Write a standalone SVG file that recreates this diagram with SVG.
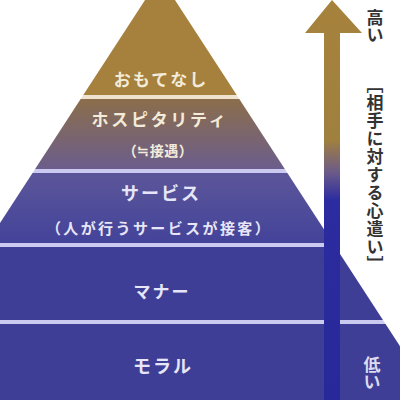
<svg xmlns="http://www.w3.org/2000/svg" width="400" height="400" viewBox="0 0 400 400">
<defs>
<style>
.lbl{font-family:"Noto Sans CJK JP","Noto Sans",sans-serif;font-weight:bold;text-anchor:middle;}
.top{fill:#f4ecda;}
.low{fill:#e6e6f8;}
.side{font-family:"Noto Sans CJK JP","Noto Sans",sans-serif;font-weight:bold;writing-mode:vertical-rl;font-size:17px;fill:#333;}
.sep1{fill:#efe3cf;}
.sep{fill:#cbcbf2;}
</style>
<clipPath id="tri"><polygon points="160,-23 435,400 -115,400"/></clipPath>
<linearGradient id="g2" x1="0" y1="99" x2="0" y2="169" gradientUnits="userSpaceOnUse">
<stop offset="0" stop-color="#8b6e4b"/><stop offset="1" stop-color="#6b5d8c"/>
</linearGradient>
<linearGradient id="g3" x1="0" y1="173" x2="0" y2="243" gradientUnits="userSpaceOnUse">
<stop offset="0" stop-color="#5c5699"/><stop offset="1" stop-color="#43439a"/>
</linearGradient>
<linearGradient id="ga" x1="0" y1="0" x2="0" y2="400" gradientUnits="userSpaceOnUse">
<stop offset="0" stop-color="#a6823c"/><stop offset="0.35" stop-color="#a0803f"/>
<stop offset="0.43" stop-color="#6c5b88"/><stop offset="0.5" stop-color="#2c2ca0"/>
<stop offset="1" stop-color="#28289a"/>
</linearGradient>
</defs>
<rect width="400" height="400" fill="#ffffff"/>
<g clip-path="url(#tri)">
<g id="omotenashi">
<rect x="-120" y="-30" width="560" height="125" fill="#a5813d"/>
<text class="lbl top" x="161" y="86" font-size="17" letter-spacing="2">おもてなし</text>
</g>
<rect class="sep1" x="-120" y="95" width="560" height="4"/>
<g id="hospitality">
<rect x="-120" y="99" width="560" height="70" fill="url(#g2)"/>
<text class="lbl top" x="160" y="126" font-size="17" letter-spacing="2.7">ホスピタリティ</text>
<text class="lbl top" x="158" y="156" font-size="14" letter-spacing="0.5">（≒接遇）</text>
</g>
<rect class="sep" x="-120" y="169" width="560" height="4"/>
<g id="service">
<rect x="-120" y="173" width="560" height="70" fill="url(#g3)"/>
<text class="lbl low" x="161" y="200" font-size="18" letter-spacing="2">サービス</text>
<text class="lbl low" x="159" y="234" font-size="15" letter-spacing="2.4">（人が行うサービスが接客）</text>
</g>
<rect class="sep" x="-120" y="243" width="560" height="4"/>
<g id="manner">
<rect x="-120" y="247" width="560" height="73" fill="#3e3e96"/>
<text class="lbl low" x="162" y="298" font-size="17" letter-spacing="2">マナー</text>
</g>
<rect class="sep" x="-120" y="320" width="560" height="4"/>
<g id="moral">
<rect x="-120" y="324" width="560" height="80" fill="#3e3e96"/>
<text class="lbl low" x="163" y="373" font-size="18" letter-spacing="2">モラル</text>
</g>
</g>
<g id="connectors">
<path d="M332,0 L362,33 L340,33 L340,400 L324,400 L324,33 L305,33 Z" fill="url(#ga)"/>
</g>
<g id="scale">
<text class="side" x="375" y="9">高い</text>
<text class="side" x="375" y="76" letter-spacing="1">［相手に対する心遣い］</text>
<text class="side" x="372" y="356" font-size="18" style="fill:#dcdcf0">低い</text>
</g>
</svg>
